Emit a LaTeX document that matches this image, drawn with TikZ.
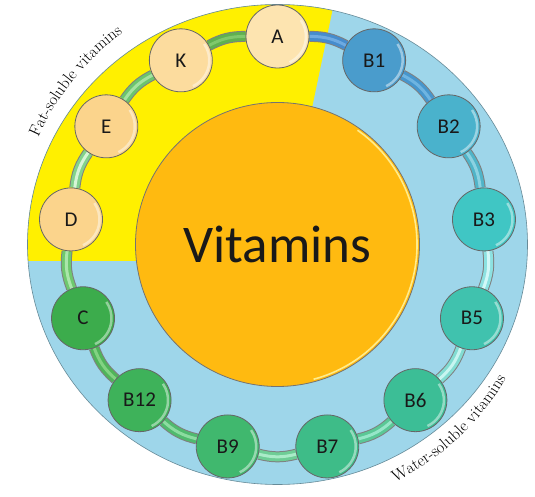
\documentclass[tikz,border=0pt]{standalone}
\usepackage{fontspec}
\newfontfamily\carlito{Carlito}
\usetikzlibrary{decorations.text}
\definecolor{outerblue}{RGB}{158,214,234}
\definecolor{yellowbg}{RGB}{255,240,0}
\definecolor{coreorange}{RGB}{255,186,16}
\definecolor{corehl}{RGB}{255,236,140}
\definecolor{fatA}{RGB}{253,228,176}
\definecolor{fatB}{RGB}{252,220,158}
\definecolor{fatC}{RGB}{251,212,140}
\definecolor{vB1}{RGB}{74,156,204}
\definecolor{vB2}{RGB}{74,178,204}
\definecolor{vB3}{RGB}{64,198,196}
\definecolor{vB5}{RGB}{64,194,174}
\definecolor{vB6}{RGB}{60,190,150}
\definecolor{vB7}{RGB}{62,188,136}
\definecolor{vB9}{RGB}{64,184,110}
\definecolor{vB12}{RGB}{62,178,90}
\definecolor{vC}{RGB}{60,172,76}
\definecolor{tAK}{RGB}{96,176,80}     \definecolor{sAK}{RGB}{128,200,108}
\definecolor{tKE}{RGB}{108,196,110}   \definecolor{sKE}{RGB}{165,226,160}
\definecolor{tED}{RGB}{130,210,140}   \definecolor{sED}{RGB}{215,245,215}
\definecolor{tDC}{RGB}{110,200,110}   \definecolor{sDC}{RGB}{170,230,170}
\definecolor{tCB}{RGB}{80,180,90}     \definecolor{sCB}{RGB}{130,210,130}
\definecolor{tBB}{RGB}{80,186,110}    \definecolor{sBB}{RGB}{140,220,160}
\definecolor{tNS}{RGB}{110,205,150}   \definecolor{sNS}{RGB}{170,235,200}
\definecolor{tSX}{RGB}{90,200,150}    \definecolor{sSX}{RGB}{150,230,200}
\definecolor{tXF}{RGB}{130,220,210}   \definecolor{sXF}{RGB}{200,245,240}
\definecolor{tFT}{RGB}{140,225,225}   \definecolor{sFT}{RGB}{210,248,248}
\definecolor{tTW}{RGB}{80,180,200}    \definecolor{sTW}{RGB}{140,210,225}
\definecolor{tWO}{RGB}{70,150,205}    \definecolor{sWO}{RGB}{110,180,225}
\definecolor{tOA}{RGB}{70,140,205}    \definecolor{sOA}{RGB}{110,170,225}
\pgfdeclarelayer{bg}
\pgfdeclarelayer{tubes}
\pgfsetlayers{bg,tubes,main}
\begin{document}
\begin{tikzpicture}[x=1pt,y=1pt,
  vit/.style={circle, draw=black!60, line width=0.8pt, fill=#1,
    minimum size=63pt, inner sep=0pt,
    font=\carlito\fontsize{21}{21}\selectfont, text=black!90,
    path picture={\draw[white, opacity=0.45, line width=2.5pt]
      ([shift={(-65:28.5pt)}]path picture bounding box.center)
      arc[start angle=-65, end angle=35, radius=28.5pt];}},
  tubeedge/.style={line width=11pt, black!50},
  tubebody/.style={line width=9pt, #1},
  tubeshine/.style={line width=3pt, #1},
  curvedlabel/.style={decorate, decoration={text along path, text align=center,
    text={|\fontsize{16.5}{16.5}\selectfont|#1}}}]
\useasboundingbox (-277.5,-252.5) rectangle (257.5,244.5);
\begin{pgfonlayer}{bg}
  \fill[white] (-277.5,-252.5) rectangle (257.5,244.5);
  \fill[outerblue] (0,0) ellipse [x radius=250pt, y radius=240pt];
  \begin{scope}
    \clip (0,0) ellipse [x radius=250pt, y radius=240pt];
    \fill[yellowbg] (2.5,-16.5) -- (66,287) -- (-300,287) -- (-300,-16.5) -- cycle;
  \end{scope}
  \draw[line width=0.6pt, black!35!outerblue] (0,0) ellipse [x radius=250pt, y radius=240pt];
  \path[curvedlabel={Fat-soluble vitamins}] (167:262pt) arc[start angle=167, end angle=115, radius=262pt];
  \path[curvedlabel={Water-soluble vitamins}] (-73:265pt) arc[start angle=-73, end angle=-21, radius=265pt];
\end{pgfonlayer}
\node[circle, minimum size=284pt, inner sep=0pt, fill=coreorange, draw=black!55, line width=0.8pt,
  font=\carlito\fontsize{53}{53}\selectfont, text=black!90,
  path picture={\draw[corehl, line width=1.6pt]
    ([shift={(-75:139.5pt)}]path picture bounding box.center)
    arc[start angle=-75, end angle=55, radius=139.5pt];}] (core) at (0,0) {Vitamins};
\foreach \n/\ang/\col in {A/90/fatA, K/117.69/fatB, E/145.38/fatC, D/173.08/fatC,
  C/200.77/vC, B12/228.46/vB12, B9/256.15/vB9, B7/283.85/vB7, B6/311.54/vB6,
  B5/339.23/vB5, B3/6.92/vB3, B2/34.62/vB2, B1/62.31/vB1}
  \node[vit=\col] (n\n) at (\ang:208pt) {\n};
\begin{pgfonlayer}{tubes}
\foreach \a/\b/\c/\d in {A/K/tAK/sAK, K/E/tKE/sKE, E/D/tED/sED, D/C/tDC/sDC,
  C/B12/tCB/sCB, B12/B9/tBB/sBB, B9/B7/tNS/sNS, B7/B6/tSX/sSX, B6/B5/tXF/sXF,
  B5/B3/tFT/sFT, B3/B2/tTW/sTW, B2/B1/tWO/sWO, B1/A/tOA/sOA} {
  \draw[tubeedge] (n\a) to[bend right=14] (n\b);
  \draw[tubebody=\c] (n\a) to[bend right=14] (n\b);
  \draw[tubeshine=\d] (n\a) to[bend right=14] (n\b);
}
\end{pgfonlayer}
\end{tikzpicture}
\end{document}
